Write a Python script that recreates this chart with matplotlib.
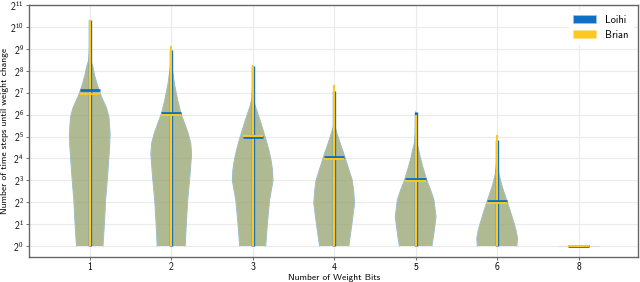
import numpy as np
import matplotlib
matplotlib.use("Agg")
import matplotlib.pyplot as plt
from matplotlib.patches import Patch

plt.rcParams['font.family'] = ['cmss10', 'DejaVu Sans']
plt.rcParams['mathtext.fontset'] = 'custom'
plt.rcParams['mathtext.rm'] = 'cmss10'
plt.rcParams['mathtext.it'] = 'cmss10'
plt.rcParams['mathtext.bf'] = 'cmss10'
plt.rcParams['axes.unicode_minus'] = False

# ---- data (log2 of number of time steps) ----
categories = ["1", "2", "3", "4", "5", "6", "8"]

# violin outlines: log2 levels and relative half-widths
shape_levels = [
    [0, 1.0, 2.1, 3.0, 3.9, 4.6, 5.15, 5.9, 6.3, 6.67, 7.0, 7.4, 7.8, 8.2, 8.5, 9.0, 10.32],
    [0, 1.0, 2.1, 3.2, 4.2, 4.7, 5.15, 5.6, 6.05, 6.7, 7.4, 8.2, 9.13],
    [0, 1.0, 2.1, 3.0, 3.5, 3.93, 4.4, 4.84, 5.3, 5.75, 6.36, 6.67, 7.3, 8.25],
    [0, 1.0, 1.95, 2.5, 3.0, 3.62, 4.23, 4.6, 5.0, 5.45, 6.0, 7.35],
    [0, 0.6, 1.34, 2.1, 2.6, 3.0, 3.62, 4.0, 4.38, 4.69, 5.2, 6.13],
    [0, 0.35, 0.7, 1.04, 1.5, 2.02, 2.7, 3.3, 4.0, 5.07],
    [0, 0],
]
shape_widths = [
    [0.65, 0.72, 0.78, 0.86, 0.93, 0.98, 1.0, 0.94, 0.83, 0.65, 0.5, 0.36, 0.24, 0.15, 0.05, 0.015, 0],
    [0.69, 0.74, 0.81, 0.92, 1.0, 0.96, 0.83, 0.66, 0.48, 0.31, 0.16, 0.04, 0],
    [0.64, 0.72, 0.83, 1.0, 0.97, 0.9, 0.79, 0.66, 0.51, 0.36, 0.14, 0.05, 0.01, 0],
    [0.72, 0.87, 1.0, 0.96, 0.89, 0.68, 0.47, 0.33, 0.19, 0.04, 0.01, 0],
    [0.8, 0.9, 1.0, 0.9, 0.72, 0.55, 0.35, 0.24, 0.15, 0.065, 0.015, 0],
    [0.97, 1.0, 0.93, 0.83, 0.68, 0.5, 0.25, 0.085, 0.015, 0],
    [1.0, 1.0],
]

loihi_min = [0, 0, 0, 0, 0, 0, 0]
loihi_max = [10.32, 8.95, 8.25, 7.09, 6.13, 4.84, 0]
loihi_median = [7.15, 6.06, 4.99, 4.05, 3.07, 2.07, 0]

brian_min = [0, 0, 0, 0, 0, 0, 0]
brian_max = [10.32, 9.13, 8.25, 7.35, 5.98, 5.07, 0]
brian_median = [6.97, 5.98, 5.02, 3.96, 2.98, 1.98, 0]

BLUE = '#0F6FC6'
YELLOW = '#FFC820'

fig = plt.figure(figsize=(6.4, 2.82), dpi=100)
ax = fig.add_axes([0.046, 0.089, 0.951, 0.892])
ax.set_yscale('log', base=2)

pos = np.arange(len(categories))
hw = 0.25  # max half width

for i, p in enumerate(pos):
    lv = 2.0 ** np.array(shape_levels[i], dtype=float)
    w = np.array(shape_widths[i], dtype=float) * hw
    xs = np.concatenate([p - w, (p + w)[::-1]])
    ys = np.concatenate([lv, lv[::-1]])
    if i == len(pos) - 1:
        ax.fill(xs, ys, facecolor='none', edgecolor='#dddddd', lw=0.8, zorder=2)
        continue
    ax.fill(xs, ys, facecolor=BLUE, alpha=0.55, edgecolor='none', zorder=2)
    ax.plot(xs, ys, color='#8dbbe8', lw=0.7, zorder=2.1)
    ax.fill(xs, ys, facecolor=YELLOW, alpha=0.40, edgecolor='none', zorder=2.2)

# extrema bars
ax.vlines(pos, 2.0 ** np.array(loihi_min), 2.0 ** np.array(loihi_max),
          color=BLUE, lw=2.4, zorder=3)
ax.vlines(pos, 2.0 ** np.array(brian_min), 2.0 ** np.array(brian_max),
          color=YELLOW, lw=1.5, zorder=4)
# medians
ax.hlines(2.0 ** np.array(loihi_median), pos - hw / 2, pos + hw / 2,
          color=BLUE, lw=2.0, zorder=5)
ax.hlines(2.0 ** np.array(brian_median), pos - hw / 2, pos + hw / 2,
          color=YELLOW, lw=1.4, zorder=6)

ax.set_xlim(-0.74, 6.73)
ax.set_ylim(2 ** -0.5, 2 ** 11)
ax.set_xticks(pos)
ax.set_xticklabels(categories)
ax.set_yticks([2.0 ** k for k in range(12)])
ax.set_yticklabels([r'$2^{%d}$' % k for k in range(12)])
ax.minorticks_off()
ax.tick_params(axis='both', labelsize=7, length=2.5, width=0.6,
               color='#555555', pad=1.5)
ax.grid(True, color='#ebebeb', lw=0.8, zorder=0)
ax.set_axisbelow(True)
for s in ax.spines.values():
    s.set_color('#666666')
    s.set_linewidth(1.0)

ax.set_xlabel('Number of Weight Bits', fontsize=6.8, labelpad=1)
ax.set_ylabel('Number of time steps until weight change', fontsize=6.8)
ax.yaxis.set_label_coords(-0.034, 0.5)

handles = [Patch(facecolor=BLUE, edgecolor='#9cc3ea', lw=0.5, label='Loihi'),
           Patch(facecolor=YELLOW, edgecolor='#ffe08a', lw=0.5, label='Brian')]
leg = ax.legend(handles=handles, loc='upper right', fontsize=7.5, frameon=True,
                handlelength=2.2, handleheight=0.8, borderaxespad=0.5,
                labelspacing=0.5, handletextpad=0.9)
leg.get_frame().set_edgecolor('white')
leg.get_frame().set_alpha(1.0)

fig.savefig('out.png', dpi=100)
